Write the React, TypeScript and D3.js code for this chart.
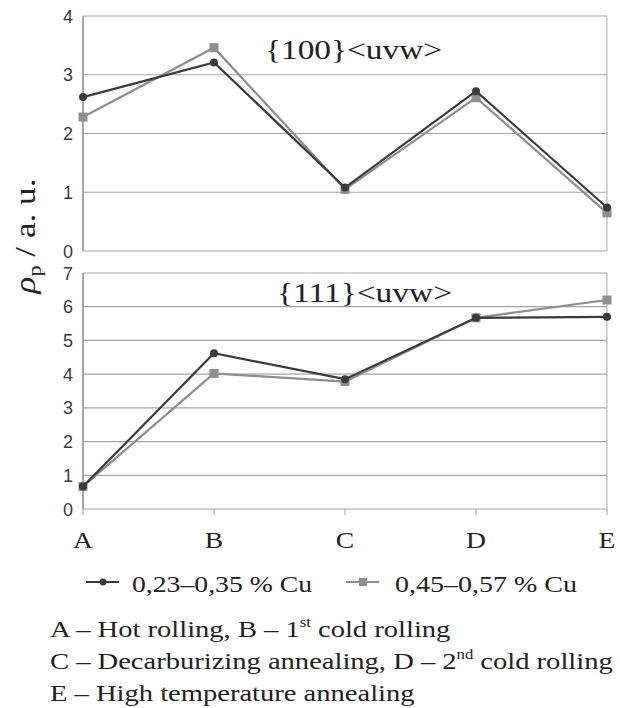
import React, { useEffect, useRef } from 'react';
import * as d3 from 'd3';

const stages = ['A', 'B', 'C', 'D', 'E'];
const low100 = [2.62, 3.21, 1.08, 2.72, 0.74];
const high100 = [2.28, 3.46, 1.05, 2.61, 0.65];
const low111 = [0.67, 4.62, 3.85, 5.67, 5.7];
const high111 = [0.67, 4.02, 3.78, 5.67, 6.2];
const seriesNames = ['0,23–0,35 % Cu', '0,45–0,57 % Cu'];
const panelLabels = ['{100}<uvw>', '{111}<uvw>'];

const serif = '"Liberation Serif", "Times New Roman", Times, serif';
const sans = '"Liberation Sans", Arial, sans-serif';
const colors = ['#3a3a3a', '#8e8e8e'];

export default function App() {
  const ref = useRef<SVGSVGElement>(null);

  useEffect(() => {
    const svg = d3.select(ref.current);
    svg.selectAll('*').remove();

    const x = d3.scalePoint<string>().domain(stages).range([83, 607]);

    const panels = [
      { data: [low100, high100], max: 4, top: 16, bottom: 251, label: panelLabels[0], lx: 265, lw: 177, ly: 59 },
      { data: [low111, high111], max: 7, top: 273, bottom: 509, label: panelLabels[1], lx: 277, lw: 175, ly: 302 },
    ];

    panels.forEach((p) => {
      const y = d3.scaleLinear().domain([0, p.max]).range([p.bottom, p.top]);
      const g = svg.append('g');

      g.selectAll('line.grid')
        .data(d3.range(0, p.max + 1))
        .enter()
        .append('line')
        .attr('x1', 83)
        .attr('x2', 607)
        .attr('y1', (d) => y(d))
        .attr('y2', (d) => y(d))
        .attr('stroke', '#a6a6a6')
        .attr('stroke-width', 1.2);

      g.append('line')
        .attr('x1', 607).attr('x2', 607)
        .attr('y1', p.top).attr('y2', p.bottom)
        .attr('stroke', '#acacac').attr('stroke-width', 1);
      g.append('line')
        .attr('x1', 83).attr('x2', 83)
        .attr('y1', p.top).attr('y2', p.bottom)
        .attr('stroke', '#8a8a8a').attr('stroke-width', 1.5);

      g.selectAll('text.tick')
        .data(d3.range(0, p.max + 1))
        .enter()
        .append('text')
        .attr('x', 73)
        .attr('y', (d) => y(d) + 6.5)
        .attr('text-anchor', 'end')
        .attr('font-family', sans)
        .attr('font-size', 18)
        .attr('fill', '#3c3c3c')
        .text((d) => d);

      g.append('text')
        .attr('x', p.lx)
        .attr('y', p.ly)
        .attr('font-family', serif)
        .attr('font-size', 27)
        .attr('fill', '#222')
        .attr('textLength', p.lw)
        .attr('lengthAdjust', 'spacingAndGlyphs')
        .text(p.label);

      // draw gray series first so the dark one sits on top
      [1, 0].forEach((si) => {
        const vals = p.data[si];
        const line = d3
          .line<number>()
          .x((_, i) => x(stages[i]) as number)
          .y((d) => y(d));
        g.append('path')
          .attr('d', line(vals))
          .attr('fill', 'none')
          .attr('stroke', colors[si])
          .attr('stroke-width', 2.2);
        if (si === 0) {
          g.selectAll(null)
            .data(vals)
            .enter()
            .append('circle')
            .attr('cx', (_, i) => x(stages[i]) as number)
            .attr('cy', (d) => y(d))
            .attr('r', 4)
            .attr('fill', colors[si]);
        } else {
          g.selectAll(null)
            .data(vals)
            .enter()
            .append('rect')
            .attr('x', (_, i) => (x(stages[i]) as number) - 4.5)
            .attr('y', (d) => y(d) - 4.5)
            .attr('width', 9)
            .attr('height', 9)
            .attr('fill', colors[si]);
        }
      });
    });

    // x ticks and labels
    svg.selectAll('line.xtick')
      .data(stages)
      .enter()
      .append('line')
      .attr('x1', (d) => x(d) as number)
      .attr('x2', (d) => x(d) as number)
      .attr('y1', 509)
      .attr('y2', 515)
      .attr('stroke', '#999');
    svg.selectAll('text.xlab')
      .data(stages)
      .enter()
      .append('text')
      .attr('transform', (d) => `translate(${x(d)},548) scale(1.15,1)`)
      .attr('text-anchor', 'middle')
      .attr('font-family', serif)
      .attr('font-size', 24)
      .attr('fill', '#222')
      .text((d) => d);

    // y axis label
    const yl = svg.append('text')
      .attr('transform', 'translate(35,236) rotate(-90)')
      .attr('text-anchor', 'middle')
      .attr('font-family', serif)
      .attr('font-size', 30)
      .attr('fill', '#222')
      .attr('textLength', 115)
      .attr('lengthAdjust', 'spacingAndGlyphs');
    yl.append('tspan').attr('font-style', 'italic').text('ρ');
    yl.append('tspan').attr('font-size', 19).attr('dy', 6).text('p');
    yl.append('tspan').attr('dy', -6).text(' / a. u.');

    // legend
    const legend = [
      { x0: 86, tx: 132, tw: 180 },
      { x0: 346, tx: 395, tw: 182 },
    ];
    legend.forEach((l, i) => {
      const lg = svg.append('g');
      lg.append('line')
        .attr('x1', l.x0).attr('x2', l.x0 + 33)
        .attr('y1', 582).attr('y2', 582)
        .attr('stroke', colors[i]).attr('stroke-width', 2);
      if (i === 0) {
        lg.append('circle').attr('cx', l.x0 + 17).attr('cy', 582).attr('r', 3.5).attr('fill', colors[i]);
      } else {
        lg.append('rect').attr('x', l.x0 + 13).attr('y', 578).attr('width', 8).attr('height', 8).attr('fill', colors[i]);
      }
      lg.append('text')
        .attr('x', l.tx)
        .attr('y', 592)
        .attr('font-family', serif)
        .attr('font-size', 23)
        .attr('fill', '#222')
        .attr('textLength', l.tw)
        .attr('lengthAdjust', 'spacingAndGlyphs')
        .text(seriesNames[i]);
    });

    // footnote
    const notes: [string, string, string][] = [
      ['A – Hot rolling, B – 1', 'st', ' cold rolling'],
      ['C – Decarburizing annealing, D – 2', 'nd', ' cold rolling'],
      ['E – High temperature annealing', '', ''],
    ];
    notes.forEach(([a, sup, b], i) => {
      const t = svg.append('text')
        .attr('transform', `translate(50,${637 + i * 32}) scale(1.19,1)`)
        .attr('font-family', serif)
        .attr('font-size', 24)
        .attr('fill', '#222');
      t.append('tspan').text(a);
      if (sup) {
        t.append('tspan').attr('font-size', 14).attr('dy', -10).text(sup);
        t.append('tspan').attr('dy', 10).text(b);
      }
    });
  }, []);

  return (
    <svg ref={ref} width={620} height={708} style={{ position: 'absolute', left: 0, top: 0, background: '#fff' }} />
  );
}
